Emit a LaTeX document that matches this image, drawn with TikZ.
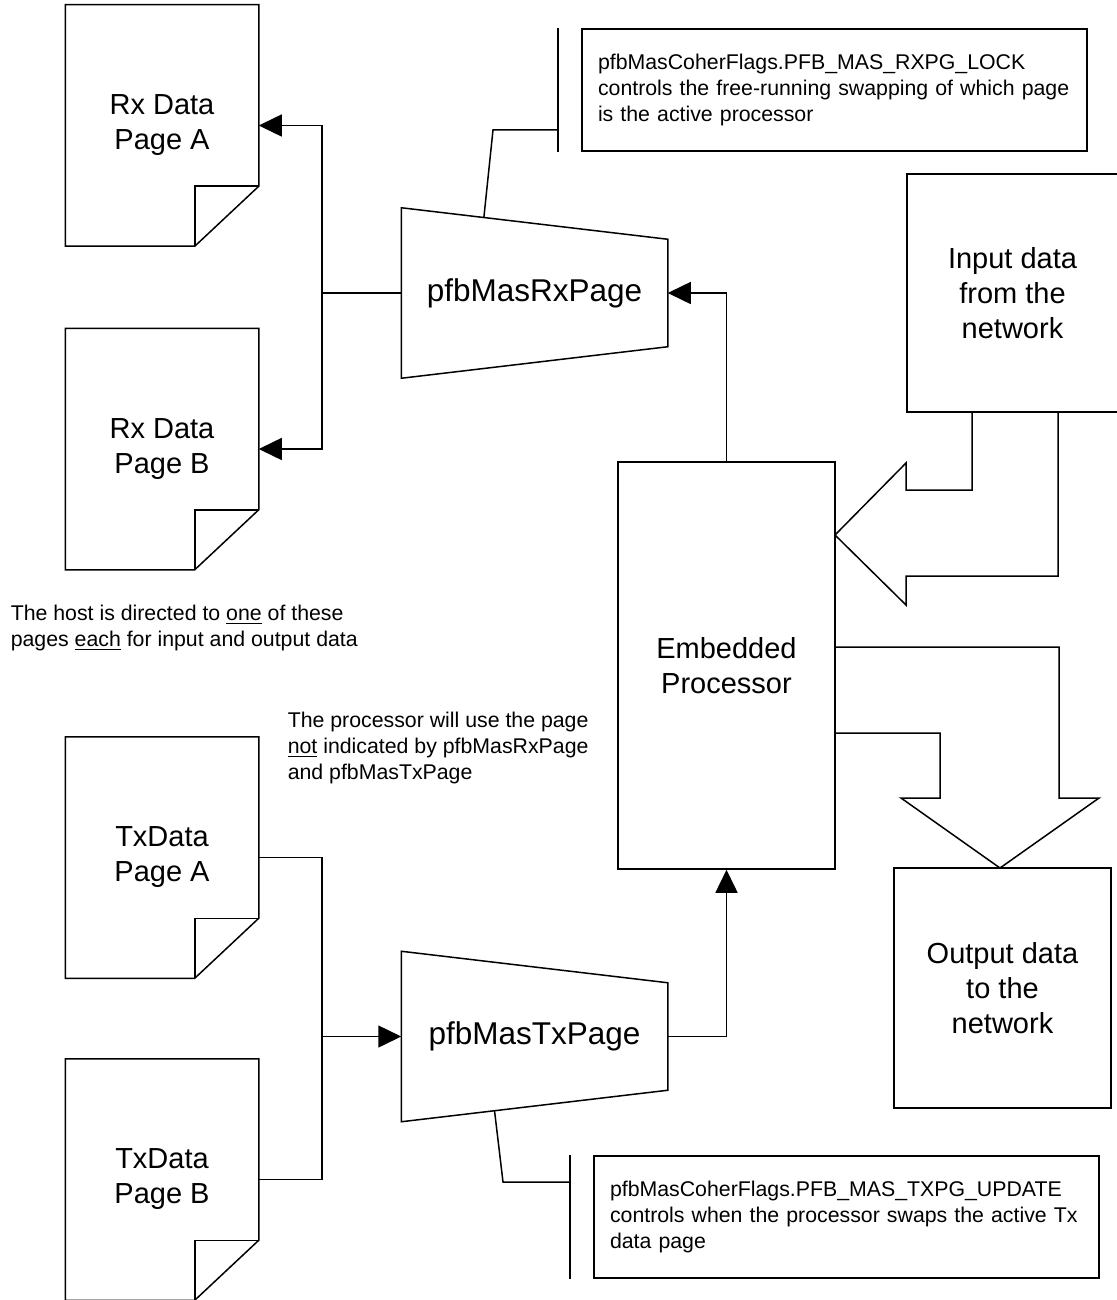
\documentclass[tikz,border=0pt]{standalone}
\usepackage{fontspec}
\setmainfont{Liberation Sans}
\usetikzlibrary{arrows.meta, positioning, calc}

\newcommand\labfont{\fontsize{14.5}{17.5}\selectfont}
\newcommand\muxfont{\fontsize{15.75}{18.5}\selectfont}
\newcommand\notefont{\fontsize{10.65}{12.8}\selectfont}

\begin{document}
\begin{tikzpicture}[
  x=0.5pt, y=-0.5pt, line width=0.75pt,
  page/.style={minimum width=96pt, minimum height=120pt, inner sep=0pt,
               align=center, font=\labfont},
  mux/.style={minimum width=132.5pt, minimum height=84.5pt, inner sep=0pt,
              font=\muxfont},
  box/.style={draw, inner sep=0pt, align=center, font=\labfont},
  note/.style={draw, minimum width=252.5pt, minimum height=61pt,
               inner xsep=8pt, text width=236.5pt, align=left, font=\notefont},
  free/.style={inner sep=0pt, align=left, anchor=west, font=\notefont},
  arrow/.style={-{Triangle[length=11.5pt,width=11pt]}},
  block/.style={line join=miter},
]
\useasboundingbox (0,0) rectangle (1117,1300);

% ---- data pages ----
\node[page] (rxa) at (162, 125.5)  {Rx Data\\Page A};
\node[page] (rxb) at (162, 449)    {Rx Data\\Page B};
\node[page] (txa) at (162, 857.5)  {TxData\\Page A};
\node[page] (txb) at (162, 1179.5) {TxData\\Page B};

\foreach \p in {rxa, rxb, txa, txb} {
  \draw (\p.north west) -- (\p.north east) -- ([yshift=30pt]\p.south east)
        -- ([xshift=-32pt]\p.south east) -- (\p.south west) -- cycle;
  \draw ([yshift=30pt]\p.south east) -| ([xshift=-32pt]\p.south east);
}

% ---- page selectors ----
\node[mux] (rxmux) at (534.5, 293)    {pfbMasRxPage};
\node[mux] (txmux) at (534.5, 1036.5) {pfbMasTxPage};

\foreach \m in {rxmux, txmux} {
  \draw (\m.north west) -- (\m.south west) -- ([yshift=15.75pt]\m.south east)
        -- ([yshift=-15.75pt]\m.north east) -- cycle;
}

% ---- processor and network ----
\node[box, minimum width=108.5pt, minimum height=203.5pt] (proc)
  at (726.5, 665.5) {Embedded\\Processor};
\node[box, minimum width=105.5pt, minimum height=119pt] (inbox)
  at (1012.5, 293) {Input data\\from the\\network};
\node[box, minimum width=108.5pt, minimum height=120pt] (outbox)
  at (1002.5, 988) {Output data\\to the\\network};

% ---- notes ----
\node[note] (rxnote) at (834.5, 90)
  {pfbMasCoherFlags.PFB\_MAS\_RXPG\_LOCK\\
   controls the free-running swapping of which page\\
   is the active processor};
\node[note] (txnote) at (846.5, 1217)
  {pfbMasCoherFlags.PFB\_MAS\_TXPG\_UPDATE\\
   controls when the processor swaps the active Tx\\
   data page};

\node[free] (hostnote) at (10, 628)
  {The host is directed to \underline{one} of these\\
   pages \underline{each} for input and output data};
\node[free] (procnote) at (287, 748)
  {The processor will use the page\\
   \underline{not} indicated by pfbMasRxPage\\
   and pfbMasTxPage};

% ---- Rx side ----
\coordinate (rxbus) at (322, 293);
\draw (rxmux.west) -- (rxbus);
\draw[arrow] (rxbus) |- (rxa.east);
\draw[arrow] (rxbus) |- (rxb.east);
\draw[arrow] (proc.north) |- (rxmux.east);

% ---- Tx side ----
\coordinate (txbus) at (322, 1036.5);
\draw (txa.east) -| (txbus);
\draw (txb.east) -| (txbus);
\draw[arrow] (txbus) -- (txmux.west);
\draw[arrow] (txmux.east) -| (proc.south);

% ---- note leaders ----
\path (rxmux.north west) -- ([yshift=-15.75pt]rxmux.north east)
  coordinate[pos=0.31] (rxtap);
\coordinate (rxknee) at (493, 130);
\coordinate (rxbar)  at (558, 130);
\draw (rxtap) -- (rxknee) -- (rxbar);
\draw (rxbar |- rxnote.north) -- (rxbar |- rxnote.south);

\path (txmux.south west) -- ([yshift=15.75pt]txmux.south east)
  coordinate[pos=0.35] (txtap);
\coordinate (txknee) at (503, 1182);
\coordinate (txbar)  at (570, 1182);
\draw (txtap) -- (txknee) -- (txbar);
\draw (txbar |- txnote.north) -- (txbar |- txnote.south);

% ---- block arrows ----
\draw[block] (972, 412) -- (972, 490) -- (906, 490) -- (906, 463)
  -- (835, 535) -- (906, 605) -- (906, 576) -- (1058, 576) -- (1058, 412);
\draw[block] (835, 647) -- (1059, 647) -- (1059, 798) -- (1099, 798)
  -- (1000, 868) -- (901, 798) -- (940, 798) -- (940, 733) -- (835, 733);

\end{tikzpicture}
\end{document}
